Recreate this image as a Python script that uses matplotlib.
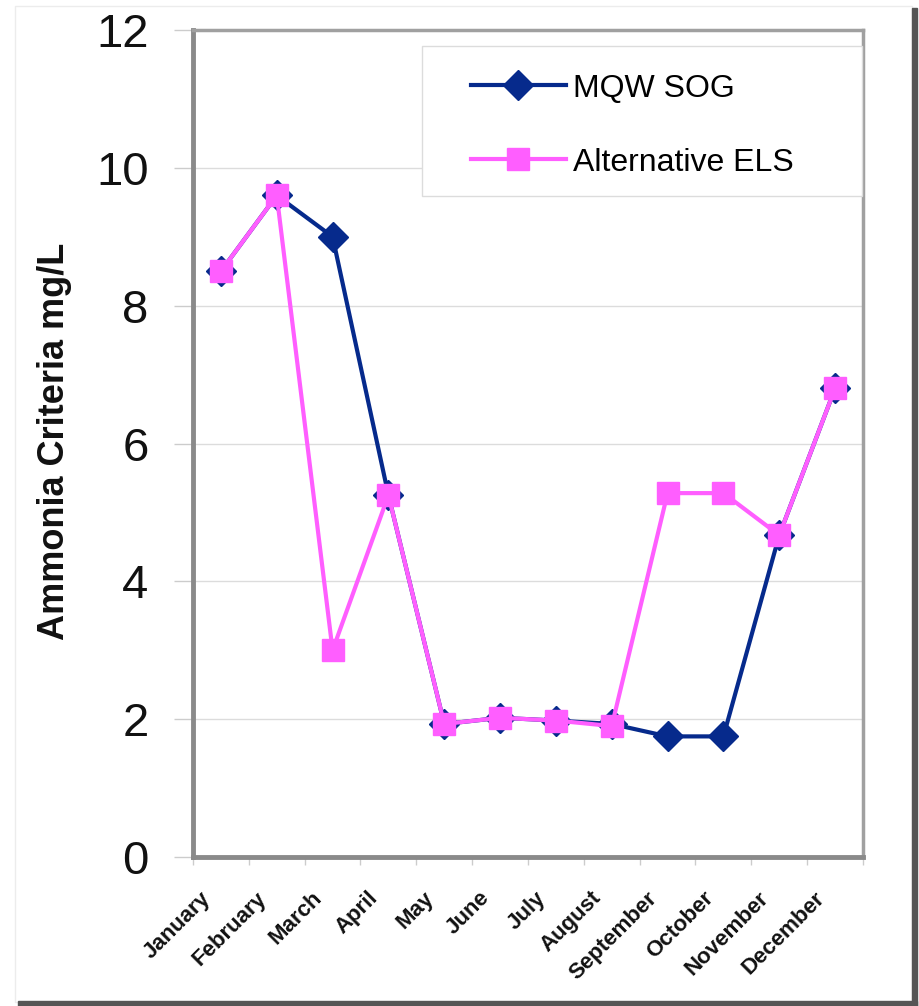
import numpy as np
import matplotlib
matplotlib.use("Agg")
import matplotlib.pyplot as plt
import matplotlib.transforms as mtransforms
from matplotlib.patches import Rectangle
from matplotlib.lines import Line2D

plt.rcParams['font.family'] = ['Liberation Sans', 'DejaVu Sans']

# Monthly ammonia criteria (mg/L)
months = ["January", "February", "March", "April", "May", "June", "July",
          "August", "September", "October", "November", "December"]
mqw_sog = [8.5, 9.6, 9.0, 5.25, 1.93, 2.02, 1.98, 1.93, 1.75, 1.75, 4.67, 6.8]
alt_els = [8.5, 9.6, 3.0, 5.25, 1.93, 2.02, 1.98, 1.9, 5.28, 5.28, 4.67, 6.8]
y_ticks = [0, 2, 4, 6, 8, 10, 12]

navy = "#062a8c"
pink = "#ff5eff"

W, H = 920, 1006
fig = plt.figure(figsize=(W / 100, H / 100), dpi=100)
ax = fig.add_axes([193 / W, 1 - 857 / H, 670 / W, 827 / H])

x = np.arange(len(months))
ax.plot(x, mqw_sog, color=navy, lw=3, marker='D', ms=15,
        mfc=navy, mec=navy, zorder=3)
ax.plot(x, alt_els, color=pink, lw=3, marker='s', ms=16,
        mfc=pink, mec=pink, zorder=4)

ax.set_xlim(-0.5, len(months) - 0.5)
ax.set_ylim(0, 12)
ax.set_yticks(y_ticks)
ax.yaxis.grid(True, color="#dcdcdc", lw=1)
ax.set_axisbelow(True)

# category ticks sit between months, labels under each month
ax.set_xticks(np.arange(len(months) + 1) - 0.5)
ax.set_xticklabels([])
ax.set_xticks(x, minor=True)
ax.set_xticklabels(months, minor=True, rotation=45, ha='right', va='top',
                   fontsize=16, fontweight='bold', color="#111111")
ax.tick_params(axis='x', which='minor', length=0, pad=22)
ax.tick_params(axis='x', which='major', length=6, width=1, color="#cccccc")
shift = mtransforms.ScaledTranslation(-6 / 100, 0, fig.dpi_scale_trans)
for lab in ax.get_xticklabels(minor=True):
    lab.set_transform(lab.get_transform() + shift)

ax.tick_params(axis='y', length=14, width=1, color="#cccccc", pad=18,
               labelsize=34, labelcolor="#111111")

for side in ['left', 'bottom']:
    ax.spines[side].set_color("#8a8a8a")
    ax.spines[side].set_linewidth(3.5)
for side in ['top', 'right']:
    ax.spines[side].set_color("#a0a0a0")
    ax.spines[side].set_linewidth(2.5)

ax.set_ylabel("Ammonia Criteria mg/L", fontsize=26, fontweight='bold',
              color="#111111")
ax.yaxis.set_label_coords(-0.18, 0.502)

# legend with its own frame
handles = [Line2D([], [], color=navy, lw=3, marker='D', ms=15, mfc=navy, mec=navy),
           Line2D([], [], color=pink, lw=3, marker='s', ms=16, mfc=pink, mec=pink)]
fig.legend(handles, ["MQW SOG", "Alternative ELS"], loc='upper left',
           bbox_to_anchor=(445 / W, 1 - 48 / H), frameon=False, fontsize=23,
           handlelength=3.0, handletextpad=0.2, labelspacing=1.38,
           borderpad=0.3)
fig.patches.append(Rectangle((422 / W, 1 - 196 / H), 440 / W, 150 / H,
                             transform=fig.transFigure, fill=True,
                             facecolor="white", edgecolor="#dcdcdc", lw=1,
                             zorder=0.5))

# picture border with drop shadow
fig.patches.append(Rectangle((15 / W, 4 / H), 897 / W, 996 / H,
                             transform=fig.transFigure, fill=False,
                             edgecolor="#ececec", lw=1))
fig.patches.append(Rectangle((912 / W, 0), 5 / W, 1 - 8 / H,
                             transform=fig.transFigure, color="#555555"))
fig.patches.append(Rectangle((18 / W, 0), 899 / W, 5 / H,
                             transform=fig.transFigure, color="#555555"))

fig.savefig("out.png", dpi=100)
